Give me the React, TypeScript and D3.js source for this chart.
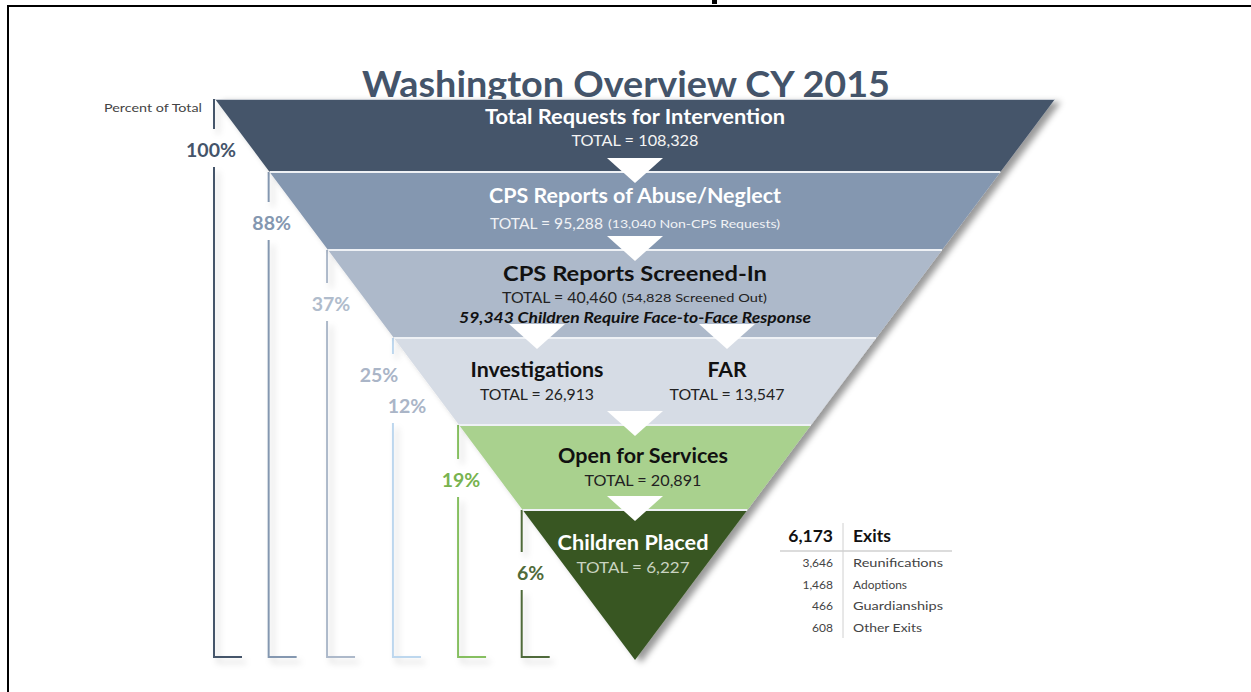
import * as d3 from "d3";

// funnel stages
const stageLabels = [
  "Total Requests for Intervention",
  "CPS Reports of Abuse/Neglect",
  "CPS Reports Screened-In",
  "Investigations",
  "FAR",
  "Open for Services",
  "Children Placed",
];
const stageTotals = [108328, 95288, 40460, 26913, 13547, 20891, 6227];
const stageNotes = ["", "(13,040 Non-CPS Requests)", "(54,828 Screened Out)", "", "", "", ""];
const stagePercents = ["100%", "88%", "37%", "25%", "12%", "19%", "6%"];
const faceToFace = "59,343 Children Require Face-to-Face Response";

const exitTotal = 6173;
const exitCounts = [3646, 1468, 466, 608];
const exitLabels = ["Reunifications", "Adoptions", "Guardianships", "Other Exits"];

// layout
const W = 1251;
const H = 692;
const cx = 635;
const funnelTop = 99;
const apexY = 660;
const topHalf = 420;
const footY = 657;
const bandTops = [99, 172, 250, 338, 425, 510];
const bandColors = ["#44546a", "#8497b0", "#adb9ca", "#d6dce5", "#a9d18e", "#385723"];
const lineColors = ["#44546a", "#8497b0", "#adb9ca", "#bdd7ee", "#86bf61", "#4f6b3a"];
const stageBand = [0, 1, 2, 3, 3, 4, 5];
const stageX = [635, 635, 635, 537, 727, 643, 633];
const headY = [124, 203, 281, 377, 377, 463, 550];
const totalY = [146, 229, 303, 400, 400, 486, 573];
const headW = [300, 292, 264, 133, 39, 170, 151];
const totalW = [127, 113, 115, 114, 115, 117, 113];
const noteX = [0, 608, 622, 0, 0, 0, 0];
const noteW = [0, 172, 145, 0, 0, 0, 0];
const headFill = ["#fff", "#fff", "#111", "#111", "#111", "#111", "#fff"];
const totalFill = ["#f4f4f4", "#f0f2f5", "#222", "#222", "#222", "#222", "#c9d3c0"];
const pctY = [157, 230, 311, 382, 413, 487, 580];
const pctDx = [-3, 3, 4, -14, 14, 3, 9];
const pctFill = ["#44546a", "#8497b0", "#b0bccc", "#aab5c7", "#aab5c7", "#78b34f", "#4f6b3a"];
const exitLabelW = [90, 54, 90, 69];

const font = "Lato, 'Open Sans', sans-serif";

export default function App() {
  const half = d3.scaleLinear().domain([funnelTop, apexY]).range([topHalf, 0]);
  const bandBottoms = bandTops.slice(1).concat(apexY);
  const fmt = d3.format(",");
  const lineX = bandTops.map((t) => cx - half(t) - 1);

  // arrows straddle each band boundary, one per stage the flow goes into
  const arrows: { x: number; y: number }[] = [];
  bandTops.slice(1).forEach((b, i) => {
    const dst = stageBand.map((s, k) => (s === i + 1 ? k : -1)).filter((k) => k >= 0);
    const xs = dst.length > 1 ? dst.map((k) => stageX[k]) : [cx];
    xs.forEach((x) => arrows.push({ x, y: b }));
  });

  return (
    <svg
      width={W}
      height={H}
      style={{ position: "fixed", left: 0, top: 0, background: "#fff" }}
      fontFamily={font}
    >
      <defs>
        <filter id="fs" x="-10%" y="-10%" width="130%" height="130%">
          <feDropShadow dx="6" dy="3" stdDeviation="3" floodColor="#000" floodOpacity="0.4" />
        </filter>
        <filter id="ls" x="-50%" y="-10%" width="400%" height="130%">
          <feDropShadow dx="4" dy="5" stdDeviation="3" floodColor="#000" floodOpacity="0.18" />
        </filter>
      </defs>

      {/* frame */}
      <rect x={0} y={0} width={W} height={H} fill="#fff" />
      <line x1={7} y1={6} x2={W} y2={6} stroke="#000" strokeWidth={2} />
      <line x1={8} y1={6} x2={8} y2={H} stroke="#000" strokeWidth={2} />
      <rect x={712} y={0} width={5} height={4} fill="#000" />

      {/* title */}
      <text x={626} y={97} textAnchor="middle" fontSize={36} fontWeight={700} fill="#44546a" textLength={528} lengthAdjust="spacingAndGlyphs">
        Washington Overview CY 2015
      </text>
      <text x={104} y={112} fontSize={11} fill="#444" textLength={98} lengthAdjust="spacingAndGlyphs">
        Percent of Total
      </text>

      {/* bracket lines */}
      {lineX.map((x, i) => {
        const ks = stageBand.map((s, k) => (s === i ? k : -1)).filter((k) => k >= 0);
        const g0 = d3.min(ks, (k) => pctY[k])! - 28;
        const g1 = d3.max(ks, (k) => pctY[k])! + 10;
        return (
          <g key={i} filter="url(#ls)" stroke={lineColors[i]} strokeWidth={2} fill="none">
            <path d={`M${x},${bandTops[i]}V${g0}`} />
            <path d={`M${x},${g1}V${footY}H${x + 28}`} />
          </g>
        );
      })}
      {stagePercents.map((p, k) => (
        <text key={k} x={lineX[stageBand[k]] + pctDx[k]} y={pctY[k]} textAnchor="middle" fontSize={19.5} fontWeight={700} fill={pctFill[k]}>
          {p}
        </text>
      ))}

      {/* funnel */}
      <g filter="url(#fs)">
        {bandTops.map((t, i) => {
          const b = bandBottoms[i];
          const pts = [
            [cx - half(t), t],
            [cx + half(t), t],
            [cx + half(b), b],
            [cx - half(b), b],
          ];
          return <polygon key={i} points={pts.map((p) => p.join(",")).join(" ")} fill={bandColors[i]} />;
        })}
      </g>
      <line x1={cx - half(funnelTop)} x2={cx + half(funnelTop)} y1={funnelTop + 0.5} y2={funnelTop + 0.5} stroke="#c9ced6" strokeWidth={1} />
      {bandTops.slice(1).map((t, i) => (
        <line key={i} x1={cx - half(t)} x2={cx + half(t)} y1={t} y2={t} stroke="#eef1f5" strokeWidth={2} />
      ))}
      {arrows.map((a, i) => (
        <polygon key={i} points={`${a.x - 28},${a.y - 14} ${a.x + 28},${a.y - 14} ${a.x},${a.y + 11}`} fill="#fff" />
      ))}

      {/* stage texts */}
      {stageLabels.map((s, k) => (
        <g key={k}>
          <text x={stageX[k]} y={headY[k]} textAnchor="middle" fontSize={20} fontWeight={700} fill={headFill[k]} textLength={headW[k]} lengthAdjust="spacingAndGlyphs">
            {s}
          </text>
          <text
            x={stageNotes[k] ? noteX[k] - 5 : stageX[k]}
            y={totalY[k]}
            textAnchor={stageNotes[k] ? "end" : "middle"}
            fontSize={15.5}
            fill={totalFill[k]}
            textLength={totalW[k]}
            lengthAdjust="spacingAndGlyphs"
          >
            {`TOTAL = ${fmt(stageTotals[k])}`}
          </text>
          {stageNotes[k] && (
            <text x={noteX[k]} y={totalY[k] - 1} fontSize={12} fill={totalFill[k]} textLength={noteW[k]} lengthAdjust="spacingAndGlyphs">
              {stageNotes[k]}
            </text>
          )}
        </g>
      ))}
      <text x={cx} y={323} textAnchor="middle" fontSize={15} fontWeight={700} fontStyle="italic" fill="#111" textLength={352} lengthAdjust="spacingAndGlyphs">
        {faceToFace}
      </text>

      {/* exits table */}
      <line x1={843} x2={843} y1={523} y2={638} stroke="#d0d0d0" strokeWidth={1} />
      <line x1={780} x2={952} y1={551} y2={551} stroke="#d0d0d0" strokeWidth={1.5} />
      <text x={833} y={542} textAnchor="end" fontSize={17.5} fontWeight={700} fill="#111">
        {fmt(exitTotal)}
      </text>
      <text x={853} y={542} fontSize={17.5} fontWeight={700} fill="#111">
        Exits
      </text>
      {exitCounts.map((c, i) => (
        <g key={i} fontSize={12} fill="#444">
          <text x={833} y={567 + i * 21.5} textAnchor="end">
            {fmt(c)}
          </text>
          <text x={853} y={567 + i * 21.5} textLength={exitLabelW[i]} lengthAdjust="spacingAndGlyphs">
            {exitLabels[i]}
          </text>
        </g>
      ))}
    </svg>
  );
}
